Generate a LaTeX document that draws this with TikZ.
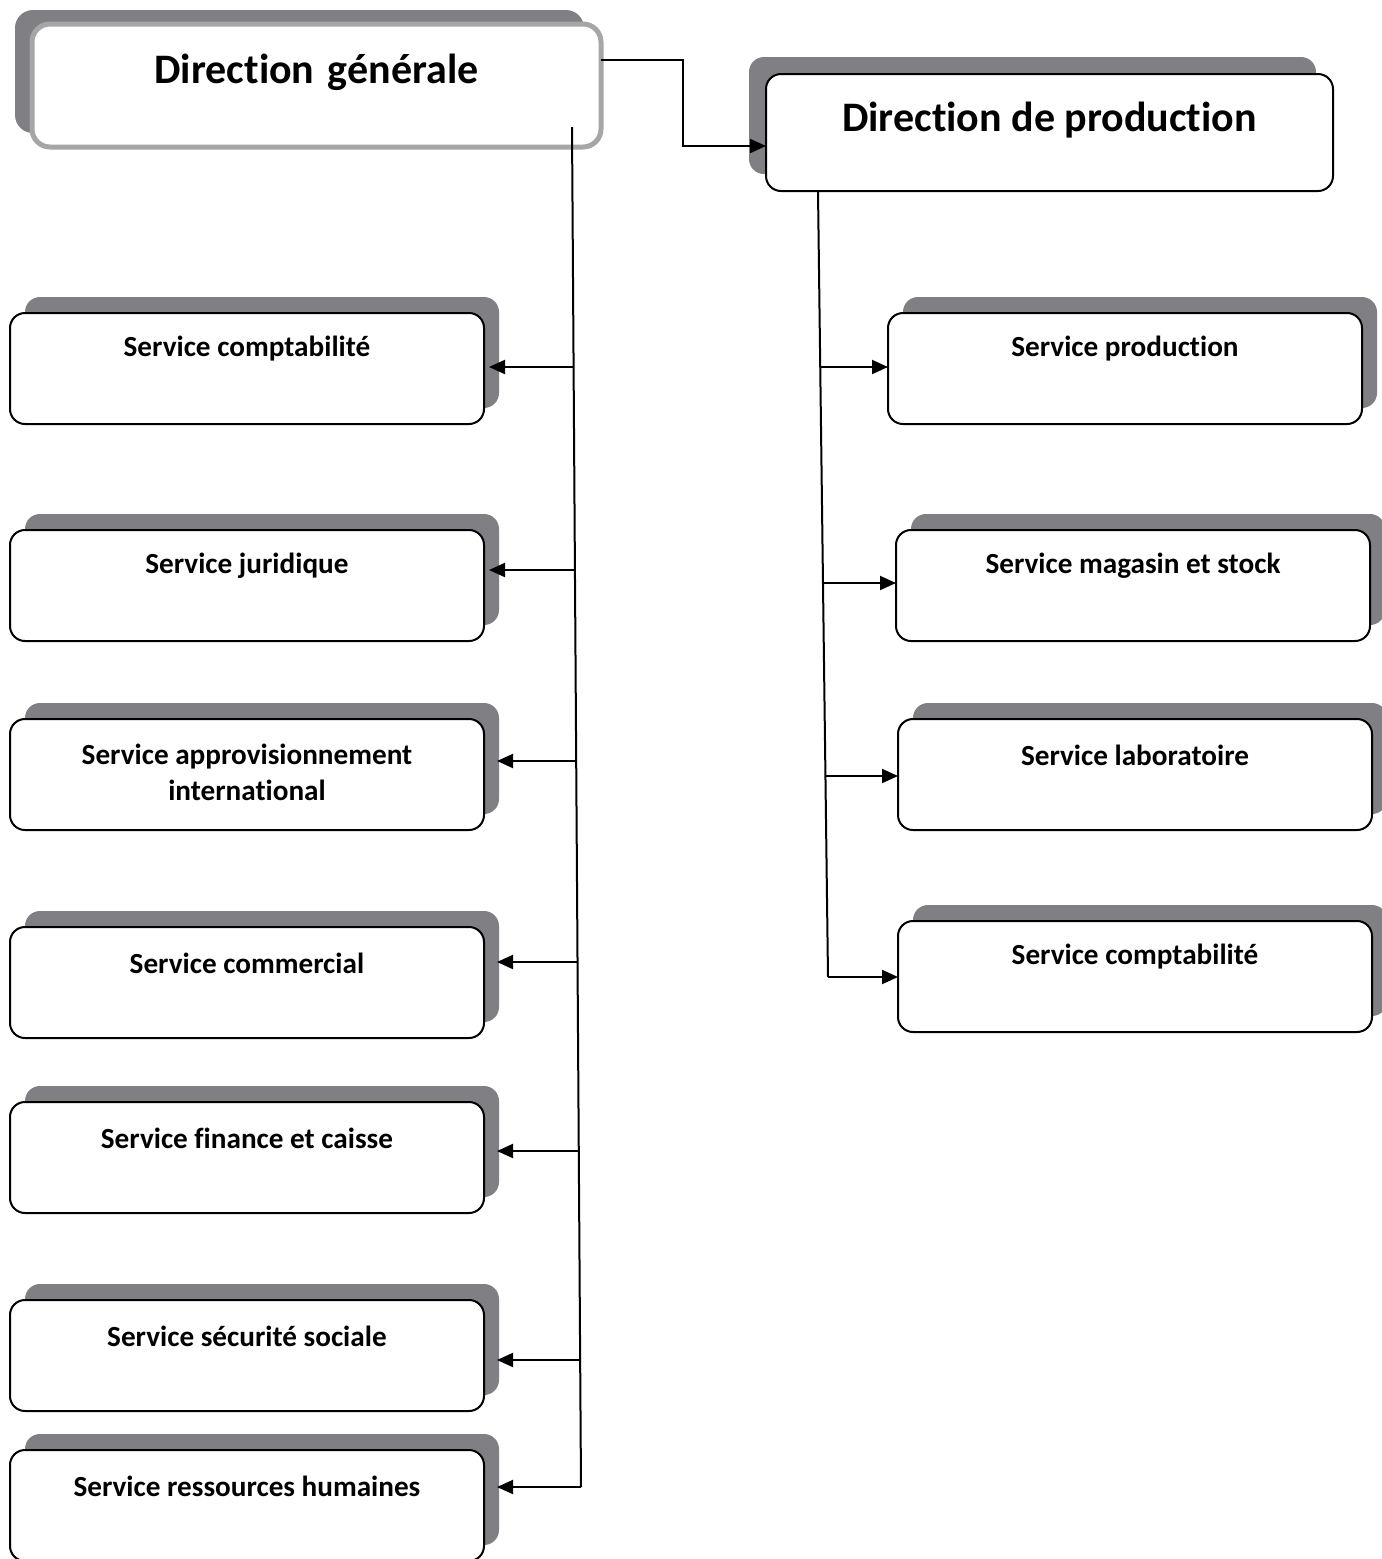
\documentclass[tikz,border=0pt]{standalone}
\usepackage{fontspec}
\setmainfont[Ligatures={NoCommon}]{Carlito}
\usetikzlibrary{calc,shadows,arrows.meta}
\definecolor{shadegray}{RGB}{127,127,132}
\definecolor{rimgray}{RGB}{166,166,166}

\begin{document}
\begin{tikzpicture}[x=0.5pt,y=-0.5pt,
  unit/.style={draw=black, line width=1pt, fill=white, rounded corners=7.5pt,
    minimum width=237pt, minimum height=55.5pt, inner sep=0pt, outer sep=0pt,
    anchor=north west},
  backshade/.style={general shadow={fill=shadegray, shadow xshift=7.5pt, shadow yshift=8pt}},
  headbox/.style={unit, minimum height=58.5pt,
    general shadow={fill=shadegray, shadow xshift=-8.5pt, shadow yshift=8.5pt}},
  topbox/.style={unit, draw=rimgray, line width=2.5pt, rounded corners=9pt,
    minimum width=284.5pt, minimum height=61.5pt,
    general shadow={fill=shadegray, shadow xshift=-8.5pt, shadow yshift=7pt}},
  label/.style={font=\bfseries\fontsize{14.6}{18}\selectfont, align=center, inner sep=0pt},
  biglabel/.style={font=\bfseries\fontsize{21}{25}\selectfont, inner sep=0pt},
  link/.style={line width=1pt},
  tip/.style={link, -{Triangle[length=8pt,width=7pt]}}
]
\useasboundingbox (0,0) rectangle (1382,1559);

% --- heads ---
\node[topbox] (dg) at (32,24) {};
\node[biglabel] (dgt) at ($(dg.north)+(0,48)$) {Direction\hspace{2pt} générale};
\node[headbox, minimum width=283.5pt] (dp) at (766,74) {};
\node[biglabel] (dpt) at ($(dp.north)+(0,46)$) {Direction de production};

% --- services under the general direction ---
\node[unit, backshade] (s1) at (10,313) {};
\node[label] (s1t) at ($(s1.north)+(0,36)$) {Service comptabilité};
\node[unit, backshade] (s2) at (10,530) {};
\node[label] (s2t) at ($(s2.north)+(0,36)$) {Service juridique};
\node[unit, backshade] (s3) at (10,719) {};
\node[label] (s3t) at ($(s3.north)+(0,53)$) {Service approvisionnement\\international};
\node[unit, backshade] (s4) at (10,927) {};
\node[label] (s4t) at ($(s4.north)+(0,36)$) {Service commercial};
\node[unit, backshade] (s5) at (10,1102) {};
\node[label] (s5t) at ($(s5.north)+(0,36)$) {Service finance et caisse};
\node[unit, backshade] (s6) at (10,1300) {};
\node[label] (s6t) at ($(s6.north)+(0,36)$) {Service sécurité sociale};
\node[unit, backshade] (s7) at (10,1450) {};
\node[label] (s7t) at ($(s7.north)+(0,36)$) {Service ressources humaines};

% --- services under the production direction ---
\node[unit, backshade] (p1) at (888,313) {};
\node[label] (p1t) at ($(p1.north)+(0,36)$) {Service production};
\node[unit, backshade] (p2) at (896,530) {};
\node[label] (p2t) at ($(p2.north)+(0,36)$) {Service magasin et stock};
\node[unit, backshade] (p3) at (898,719) {};
\node[label] (p3t) at ($(p3.north)+(0,36)$) {Service laboratoire};
\node[unit, backshade] (p4) at (898,921) {};
\node[label] (p4t) at ($(p4.north)+(0,36)$) {Service comptabilité};

% --- link between the two directions ---
\coordinate (k1) at (683,60);
\coordinate (k2) at (683,146);
\draw[tip] (k1 -| dg.east) -- (k1) -- (k2) -- (k2 -| dp.west);

% --- left trunk and branches ---
\coordinate (gtop) at (572,127);
\coordinate (gbot) at (581,1487);
\draw[link] (gtop) -- (gbot);
\coordinate (g1) at (573.6,367);
\coordinate (g2) at (574.9,570);
\coordinate (g3) at (576.2,761);
\coordinate (g4) at (577.5,962);
\coordinate (g5) at (578.8,1151);
\coordinate (g6) at (580.2,1360);
\draw[tip] (g1) -- ($(g1 -| s1.east)+(5,0)$);
\draw[tip] (g2) -- ($(g2 -| s2.east)+(5,0)$);
\draw[tip] (g3) -- ($(g3 -| s3.east)+(13,0)$);
\draw[tip] (g4) -- ($(g4 -| s4.east)+(13,0)$);
\draw[tip] (g5) -- ($(g5 -| s5.east)+(13,0)$);
\draw[tip] (g6) -- ($(g6 -| s6.east)+(13,0)$);
\draw[tip] (gbot) -- ($(gbot -| s7.east)+(13,0)$);

% --- right trunk and branches ---
\coordinate (rtop) at (dp.south -| 818,0);
\coordinate (rbot) at (828,977);
\draw[link] (rtop) -- (rbot);
\coordinate (r1) at (820.2,367);
\coordinate (r2) at (823,583);
\coordinate (r3) at (825.4,776);
\draw[tip] (r1) -- (r1 -| p1.west);
\draw[tip] (r2) -- (r2 -| p2.west);
\draw[tip] (r3) -- (r3 -| p3.west);
\draw[tip] (rbot) -- (rbot -| p4.west);
\end{tikzpicture}
\end{document}
